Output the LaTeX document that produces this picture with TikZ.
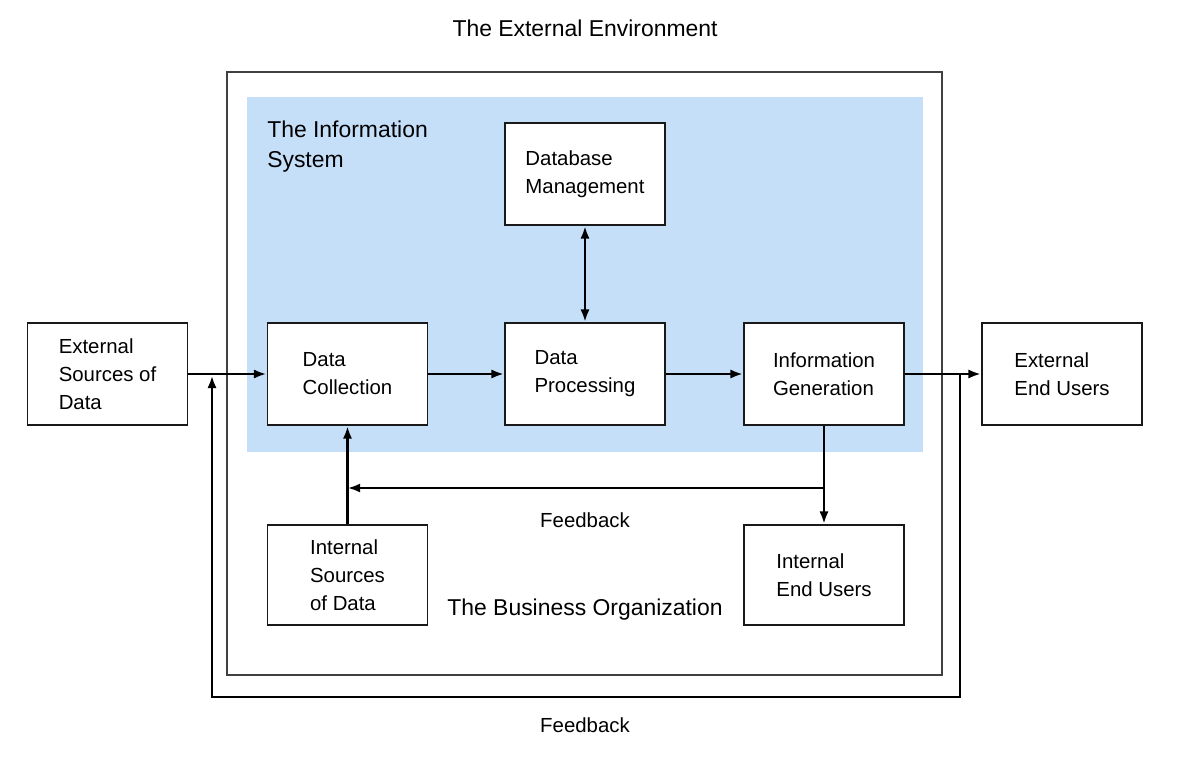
\documentclass[tikz,border=0pt]{standalone}
\usepackage{fontspec}
\setmainfont{Liberation Sans}
\usetikzlibrary{arrows.meta,calc}
\definecolor{isblue}{RGB}{198,223,249}
\tikzset{
  box/.style={draw=black!90,line width=1.3pt,fill=white,minimum width=4cm,minimum height=2.55cm,align=left,inner sep=0pt,font=\fontsize{14.5}{20}\selectfont},
  arr/.style={line width=2pt,-{Latex[length=9pt,width=6.5pt]}},
  dblarr/.style={line width=2pt,{Latex[length=9pt,width=6.5pt]}-{Latex[length=9pt,width=6.5pt]}},
  lbl/.style={font=\fontsize{16.3}{21.3}\selectfont,inner sep=0pt},
  fb/.style={font=\fontsize{14.5}{20}\selectfont,inner sep=0pt}
}
\begin{document}
\begin{tikzpicture}[x=0.025cm,y=-0.025cm]
\useasboundingbox (0,0) rectangle (1178,757);
% title
\node[lbl] (title) at (585,28) {The External Environment};
% business organization
\node[draw=black!75,line width=1.6pt,minimum width=17.875cm,minimum height=15.075cm,inner sep=0pt] (org) at (584.5,373.5) {};
% information system area
\node[fill=isblue,minimum width=16.9cm,minimum height=8.875cm,inner sep=0pt] (isys) at (585,274.5) {};
\node[lbl,anchor=west,align=left] (istitle) at (267,147) {The Information\\System};
% boxes
\node[box] (dbm) at (585,174) {Database\\Management};
\node[box] (dc) at (347.5,374) {Data\\Collection};
\node[box] (dp) at (585,374) {Data\\Processing};
\node[box] (ig) at (824,374) {Information\\Generation};
\node[box] (es) at (107.5,374) {External\\Sources of\\Data};
\node[box] (eu) at (1062,374) {External\\End Users};
\node[box,minimum height=2.5cm] (is) at (347.5,575) {Internal\\Sources\\of Data};
\node[box,minimum height=2.5cm] (iu) at (824,575) {Internal\\End Users};
% labels
\node[fb] (fb1) at (585,520) {Feedback};
\node[fb] (fb2) at (585,725) {Feedback};
\node[lbl] (borg) at (585,610) {The Business Organization};
% main flow
\draw[arr] (es.east) -- (dc.west);
\draw[arr] (dc.east) -- (dp.west);
\draw[arr] (dp.east) -- (ig.west);
\draw[arr] (ig.east) -- (eu.west);
\draw[dblarr] (dbm.south) -- (dp.north);
% outer feedback
\coordinate (fbR) at (960,374);
\coordinate (fbL) at (212,374);
\draw[arr,shorten >=1pt] (fbR) -- (960,697) -| (fbL);
% inner feedback
\draw[arr] (ig.south) -- (iu.north);
\coordinate (fbI) at (ig.south |- 0,488);
\coordinate (fbC) at (dc.south |- 0,488);
\draw[arr] (fbI) -- (fbC);
\draw[arr] (is.north) -- (dc.south);
\end{tikzpicture}
\end{document}
